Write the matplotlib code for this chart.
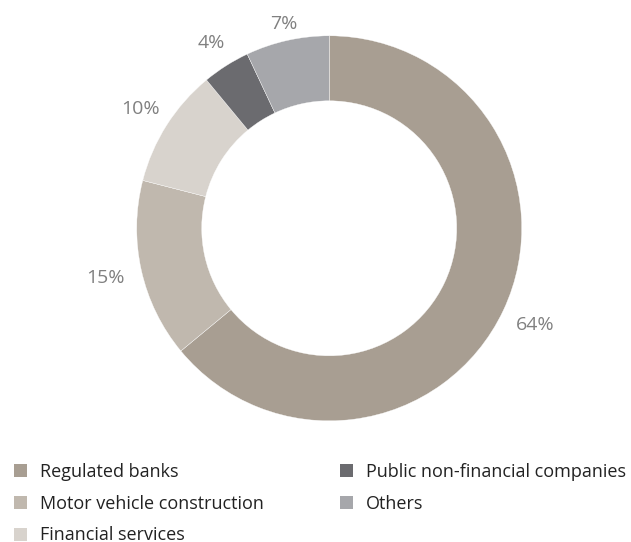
import matplotlib
matplotlib.use("Agg")
import numpy as np
import matplotlib.pyplot as plt
from matplotlib.patches import Patch

categories = ["Regulated banks", "Motor vehicle construction", "Financial services",
              "Public non-financial companies", "Others"]
shares = [64, 15, 10, 4, 7]
colors = ["#a89e92", "#c0b8ae", "#d8d3cd", "#6b6b6f", "#a6a7ab"]

# distance of each percentage label from the centre, in units of the outer radius
label_radius = [1.18, 1.19, 1.16, 1.14, 1.085]

plt.rcParams["font.family"] = ["Open Sans", "DejaVu Sans"]

W, H, DPI = 631, 542, 100
fig = plt.figure(figsize=(W / DPI, H / DPI), dpi=DPI)
ax = fig.add_axes([0, 0, 1, 1])

# ring geometry in pixels
cx, cy, R = 329.2, 228.3, 192.5
ring = 65 / R

wedges, _ = ax.pie(
    shares,
    colors=colors,
    startangle=90,
    counterclock=False,
    radius=1.0,
    wedgeprops=dict(width=ring, edgecolor="white", linewidth=0.25),
)

for w, v, rl in zip(wedges, shares, label_radius):
    mid = np.deg2rad((w.theta1 + w.theta2) / 2)
    ax.text(rl * np.cos(mid), rl * np.sin(mid), f"{v}%",
            ha="center", va="center", color="#808080", fontsize=14)

ax.set_xlim(-cx / R, (W - cx) / R)
ax.set_ylim(-(H - cy) / R, cy / R)
ax.set_aspect("equal", adjustable="datalim")
ax.axis("off")

handles = [Patch(facecolor=c, edgecolor="none") for c in colors]
fig.legend(
    handles, categories,
    loc="upper left",
    bbox_to_anchor=(14 / W, 1 - 463 / H),
    ncol=2,
    frameon=False,
    fontsize=13,
    handlelength=0.72,
    handleheight=0.72,
    handletextpad=0.72,
    columnspacing=4.2,
    labelspacing=0.76,
    labelcolor="#222222",
    borderaxespad=0,
    borderpad=0,
)

fig.savefig("out.png", dpi=DPI, facecolor="white")
